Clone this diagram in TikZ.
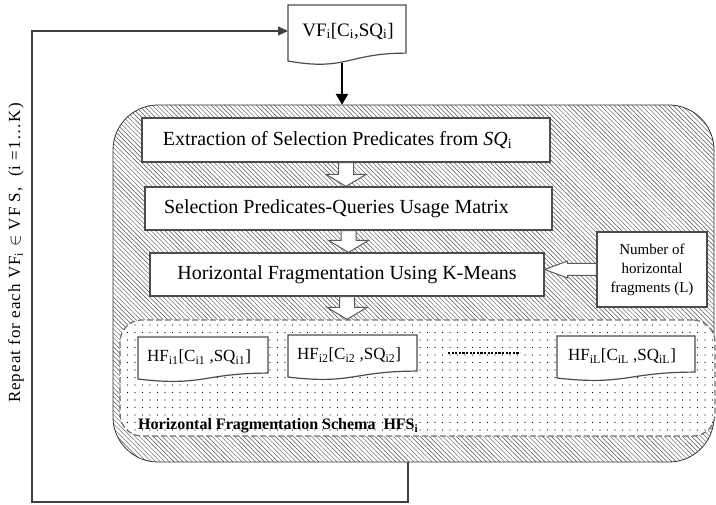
\documentclass[tikz,border=0pt]{standalone}
\usepackage{fontspec}
\setmainfont{Liberation Serif}
\usetikzlibrary{patterns.meta,calc,arrows.meta}
\pgfdeclarelayer{back}
\pgfdeclarelayer{mid}
\pgfsetlayers{back,mid,main}
\newcommand\mydocshape[4]{%
  \begin{pgfonlayer}{mid}
  \draw[docline] ({#1},{#2}) -- ({#1+#3},{#2}) -- ({#1+#3},{#2+0.802*#4})
    .. controls ({#1+0.5*#3},{#2+0.802*#4}) and ({#1+0.5*#3},{#2+1.107*#4}) .. ({#1},{#2+0.934*#4}) -- cycle;
  \end{pgfonlayer}}
\newcommand\myhollowdown[2]{%
  \path let \p1=(#1), \p2=(#2) in
    [hollow] (\x1-7.5pt,\y1) -- (\x1-7.5pt,\y2+12pt) -- (\x1-20pt,\y2+12pt) -- (\x1,\y2)
    -- (\x1+20pt,\y2+12pt) -- (\x1+7.5pt,\y2+12pt) -- (\x1+7.5pt,\y1) -- cycle;}
\begin{document}
\begin{tikzpicture}[x=1pt,y=-1pt,
  bigbox/.style={draw=black!80, line width=0.8pt, rounded corners=45pt, inner sep=0pt,
    pattern={Lines[angle=-45,distance=3.2pt,line width=0.45pt]}, pattern color=black!70},
  hfsbox/.style={draw=black!55, line width=1.3pt, dash pattern=on 6pt off 3pt, rounded corners=22pt,
    inner sep=0pt, preaction={fill=white},
    pattern={Dots[distance=7.5pt,radius=0.65pt]}, pattern color=black},
  stepbox/.style={draw=black!70, line width=1.2pt, fill=white, inner sep=0pt,
    font=\fontsize{20}{24}\selectfont},
  numbox/.style={draw=black!70, line width=1.2pt, fill=white, inner sep=0pt, align=center,
    font=\fontsize{15}{19}\selectfont},
  docline/.style={draw=black!70, line width=1.2pt, fill=white},
  doctext/.style={inner sep=0pt, font=\fontsize{17}{20}\selectfont},
  hollow/.style={draw=black!65, line width=1pt, fill=white},
  loopline/.style={draw=black!75, line width=1.2pt},
]
\useasboundingbox (0,0) rectangle (716,505);

\begin{pgfonlayer}{back}
\node[bigbox, minimum width=601pt, minimum height=357pt] (big) at (413.5,283.5) {};
\node[hfsbox, minimum width=595pt, minimum height=116pt] (hfs) at (417.5,378) {};
\end{pgfonlayer}

% top document box
\mydocshape{288}{5}{118}{60}
\node[doctext, font=\fontsize{19}{22}\selectfont] (vf) at (348,31) {VF\textsubscript{i}[C\textsubscript{i},SQ\textsubscript{i}]};
\coordinate (vfb) at (342,63);
\coordinate (vfin) at (288,31);

% process boxes
\node[stepbox, minimum width=408pt, minimum height=44pt] (b1) at (346,140)
  {\hspace*{-17pt}Extraction of Selection Predicates from \textit{SQ}\textsubscript{i}};
\node[stepbox, minimum width=407pt, minimum height=43pt] (b2) at (348.5,208.5)
  {\hspace*{-24pt}Selection Predicates-Queries Usage Matrix};
\node[stepbox, minimum width=394pt, minimum height=43pt] (b3) at (347,274.5)
  {Horizontal Fragmentation Using K-Means};
\node[numbox, minimum width=110pt, minimum height=75pt] (num) at (652,269.5)
  {Number of\\horizontal\\fragments (L)};

% fragment documents
\mydocshape{138}{337}{130}{45}
\node[doctext] (hf1) at (199,357) {HF\textsubscript{i1}[C\textsubscript{i1} ,SQ\textsubscript{i1}]};
\mydocshape{288}{335}{129}{45}
\node[doctext] (hf2) at (349,355) {HF\textsubscript{i2}[C\textsubscript{i2} ,SQ\textsubscript{i2}]};
\mydocshape{557}{336}{138}{45}
\node[doctext] (hfl) at (622,356) {HF\textsubscript{iL}[C\textsubscript{iL} ,SQ\textsubscript{iL}]};
\draw[line width=1.6pt, dash pattern=on 2.2pt off 1.4pt] (448,353) -- (520,353);

\node[anchor=base west, inner sep=0pt, font=\fontsize{16}{19}\selectfont\bfseries] (hfst) at (138,430)
  {Horizontal Fragmentation Schema~~HFS\textsubscript{i}};

% connectors
\draw[line width=2.6pt, -{Triangle[width=12pt,length=11pt]}] (vfb) -- (vfb |- big.north);
\myhollowdown{b1.south}{b2.north}
\myhollowdown{b2.south}{b3.north}
\myhollowdown{b3.south}{b3.south |- hfs.north}
\path let \p1=(num.west), \p2=(b3.east) in
  [hollow] (\x1,\y1+6pt) -- (\x2+23pt,\y1+6pt) -- (\x2+23pt,\y1+8.5pt) -- (\x2,\y1)
  -- (\x2+23pt,\y1-8.5pt) -- (\x2+23pt,\y1-6pt) -- (\x1,\y1-6pt) -- cycle;

\coordinate (lp) at (408,502);
\coordinate (c1) at (32,502);
\coordinate (c2) at (32,31);
\draw[loopline, -{Triangle[width=9pt,length=10pt]}] (lp |- big.south) -- (lp) -- (c1) -- (c2) -- (vfin);

\node[rotate=90, inner sep=0pt, font=\fontsize{17}{20}\selectfont\addfontfeature{LetterSpace=6}] (rep) at (16,253)
  {Repeat for each VF\textsubscript{i} $\in$ VF S,~ (i =1…K)};
\end{tikzpicture}
\end{document}
